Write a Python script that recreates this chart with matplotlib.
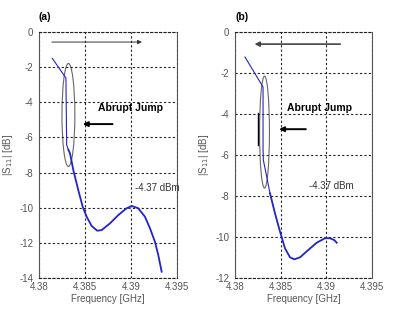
import matplotlib.pyplot as plt
from matplotlib.patches import Ellipse

plt.rcParams['font.family'] = ['Liberation Sans', 'DejaVu Sans']

# panel (a): |S11| sweep up
freq_a = [4.38145, 4.38293, 4.38301, 4.38320, 4.38337, 4.38373, 4.38427,
          4.38475, 4.38518, 4.38573, 4.38634, 4.38682, 4.38772, 4.38862,
          4.38953, 4.39008, 4.39079, 4.39152, 4.39207, 4.39261, 4.39297,
          4.39334]
s11_a = [-1.50, -2.62, -6.43, -6.70, -6.90, -7.85, -8.99,
         -9.94, -10.51, -11.04, -11.31, -11.27, -10.89, -10.42,
         -10.03, -9.90, -10.03, -10.51, -11.17, -11.94, -12.69,
         -13.64]

# panel (b): |S11| sweep down
freq_b = [4.38109, 4.38307, 4.38307, 4.38310, 4.38347, 4.38383, 4.38438,
          4.38493, 4.38547, 4.38602, 4.38649, 4.38712, 4.38803, 4.38894,
          4.38985, 4.39040, 4.39087, 4.39114]
s11_b = [-1.22, -2.68, -5.76, -6.24, -7.06, -7.87, -8.85,
         -9.74, -10.55, -10.99, -11.09, -10.99, -10.63, -10.28,
         -10.06, -10.06, -10.15, -10.28]

xticks = [4.38, 4.385, 4.39, 4.395]
xtick_labels = ['4.38', '4.385', '4.39', '4.395']
yticks_a = [0, -2, -4, -6, -8, -10, -12, -14]
yticks_b = [0, -2, -4, -6, -8, -10, -12]
power_label = '-4.37 dBm'


def style_axes(ax, yticks, tag):
    ax.set_xlim(4.38, 4.395)
    ax.set_ylim(min(yticks), 0)
    ax.set_xticks(xticks)
    ax.set_xticklabels(xtick_labels)
    ax.set_yticks(yticks)
    ax.set_yticklabels([str(v) for v in yticks])
    ax.tick_params(length=0, labelsize=7, labelcolor='#555555')
    ax.tick_params(axis='x', pad=3)
    ax.tick_params(axis='y', pad=4)
    ax.grid(True, color='#222222', linestyle=(0, (2, 2)), linewidth=0.8)
    for s in ['left', 'right']:
        ax.spines[s].set_color('#555555')
        ax.spines[s].set_linewidth(0.8)
    for s in ['top', 'bottom']:
        ax.spines[s].set_color('#222222')
        ax.spines[s].set_linestyle((0, (2, 2)))
        ax.spines[s].set_linewidth(0.8)
    ax.set_xlabel('Frequency [GHz]', fontsize=7, color='#555555', labelpad=1)
    ax.set_ylabel('|S$_{11}$| [dB]', fontsize=7, color='#555555', labelpad=3)
    ax.text(0.0, 1.06, tag, transform=ax.transAxes, fontsize=7.5,
            fontweight='bold', ha='left', va='center')


fig = plt.figure(figsize=(3.93, 3.10), dpi=100)
ax_a = fig.add_axes([0.0992, 0.1032, 0.351, 0.7935])
ax_b = fig.add_axes([0.598, 0.1032, 0.3486, 0.7935])

# (a)
style_axes(ax_a, yticks_a, '(a)')
ax_a.plot(freq_a[:4], s11_a[:4], color='#2323c8', linewidth=0.8)
ax_a.plot(freq_a[3:], s11_a[3:], color='#2323c8', linewidth=1.3)
ax_a.add_patch(Ellipse((4.3832, -4.72), 0.0014, 5.86, fill=False,
                       edgecolor='#666666', linewidth=0.8))
ax_a.annotate('', xy=(4.3915, -0.57), xytext=(4.3811, -0.57),
              arrowprops=dict(arrowstyle='-|>', color='#333333', lw=0.7,
                              mutation_scale=6))
ax_a.annotate('', xy=(4.38446, -5.24), xytext=(4.3883, -5.24),
              arrowprops=dict(arrowstyle='-|>', color='black', lw=1.4,
                              mutation_scale=7))
ax_a.text(4.3864, -4.33, 'Abrupt Jump', fontsize=7.5, fontweight='bold',
          ha='left', va='center')
ax_a.text(4.3904, -8.88, power_label, fontsize=7, color='#333333',
          ha='left', va='center')

# (b)
style_axes(ax_b, yticks_b, '(b)')
ax_b.plot(freq_b[:6], s11_b[:6], color='#2323c8', linewidth=0.8)
ax_b.plot(freq_b[5:], s11_b[5:], color='#2323c8', linewidth=1.3)
ax_b.add_patch(Ellipse((4.38323, -4.88), 0.00108, 5.46, fill=False,
                       edgecolor='#666666', linewidth=0.8))
ax_b.plot([4.38247, 4.38247], [-3.95, -5.5], color='black', linewidth=1.0)
ax_b.annotate('', xy=(4.38183, -0.59), xytext=(4.39183, -0.59),
              arrowprops=dict(arrowstyle='-|>', color='#444444', lw=1.2,
                              mutation_scale=7))
ax_b.annotate('', xy=(4.38452, -4.74), xytext=(4.38806, -4.74),
              arrowprops=dict(arrowstyle='-|>', color='black', lw=1.4,
                              mutation_scale=7))
ax_b.text(4.3857, -3.7, 'Abrupt Jump', fontsize=7.5, fontweight='bold',
          ha='left', va='center')
ax_b.text(4.38806, -7.5, power_label, fontsize=7, color='#333333',
          ha='left', va='center')

fig.savefig('out.png', dpi=100)
